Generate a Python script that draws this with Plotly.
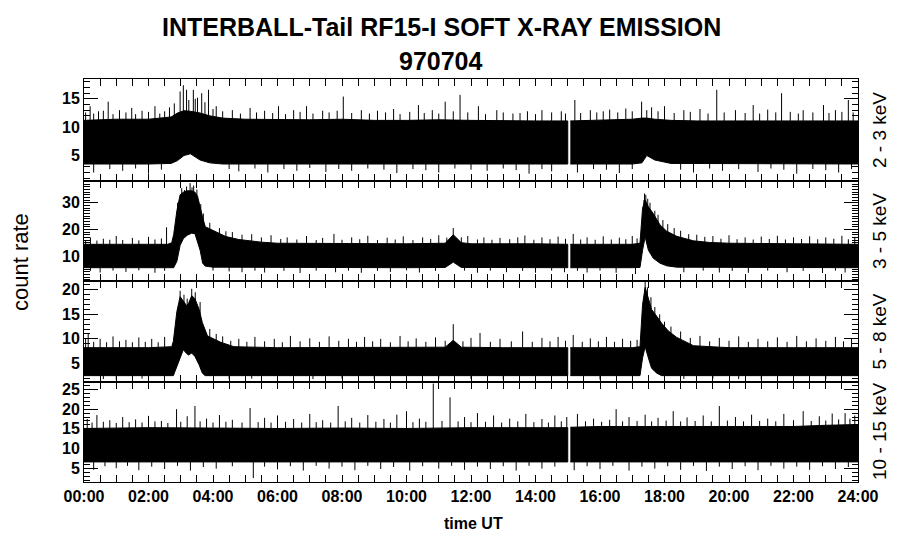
import numpy as np
import plotly.graph_objects as go
from plotly.subplots import make_subplots

# ---------------- data ----------------
title_lines = ["INTERBALL-Tail RF15-I SOFT X-RAY EMISSION", "970704"]
channels = ["2 - 3 keV", "3 - 5 keV", "5 - 8 keV", "10 - 15 keV"]
hour_ticks = [0, 2, 4, 6, 8, 10, 12, 14, 16, 18, 20, 22, 24]
hour_labels = ["00:00", "02:00", "04:00", "06:00", "08:00", "10:00", "12:00",
               "14:00", "16:00", "18:00", "20:00", "22:00", "24:00"]
gap_start, gap_end = 15.0, 15.08

# panel 1 : 2 - 3 keV  (dense band: upper / lower envelope)
t1 = [0, 1, 2, 2.7, 2.9, 3.1, 3.3, 3.6, 3.9, 4.3, 5, 6, 7, 8, 9, 10, 11, 12, 13, 14, 15.0,
      15.08, 16, 17, 17.3, 17.45, 17.7, 18.2, 19, 20, 21, 22, 23, 24]
hi1 = [11.2, 11.4, 11.4, 11.8, 12.5, 12.9, 12.8, 12.5, 12.0, 11.6, 11.4, 11.3, 11.3, 11.4, 11.2,
       11.2, 11.3, 11.2, 11.1, 11.1, 11.1, 11.1, 11.2, 11.4, 11.6, 11.6, 11.4, 11.2, 11.1, 11.1,
       11.2, 11.1, 11.1, 11.1]
lo1 = [3.5, 3.5, 3.5, 3.6, 4.1, 5.0, 5.3, 4.2, 3.7, 3.5, 3.5, 3.5, 3.5, 3.5, 3.5, 3.5, 3.5, 3.5,
       3.5, 3.5, 3.5, 3.5, 3.5, 3.5, 3.7, 5.0, 4.2, 3.6, 3.5, 3.5, 3.5, 3.5, 3.5, 3.5]
up1_t = [0.05, 0.19, 0.3, 0.45, 0.6, 0.75, 0.9, 1.1, 1.3, 1.48, 1.6, 1.8, 2.0, 2.2, 2.35, 2.5,
         2.65, 2.8, 2.98, 3.08, 3.18, 3.25, 3.39, 3.45, 3.52, 3.65, 3.75, 3.86, 4.0, 4.1, 4.3,
         4.6, 4.85, 5.15, 5.35, 5.6, 5.85, 6.03, 6.25, 6.5, 6.7, 6.9, 7.1, 7.4, 7.6, 7.85, 8.04,
         8.3, 8.6, 8.85, 9.1, 9.35, 9.6, 9.8, 10.1, 10.37, 10.55, 10.8, 11.0, 11.2, 11.45, 11.66,
         11.9, 12.23, 12.45, 12.8, 13.0, 13.3, 13.52, 13.75, 14.0, 14.2, 14.5, 14.8, 14.93,
         15.22, 15.4, 15.7, 15.9, 16.1, 16.3, 16.55, 16.8, 17.0, 17.29, 17.45, 17.6, 17.8, 18.0,
         18.3, 18.6, 18.8, 19.1, 19.35, 19.62, 19.85, 20.2, 20.5, 20.75, 20.95, 21.2, 21.45,
         21.63, 21.9, 22.15, 22.3, 22.6, 22.93, 23.1, 23.3, 23.5, 23.7, 23.85]
up1_v = [12.6, 13.7, 12.4, 12.8, 12.9, 14.5, 12.3, 13.0, 12.6, 13.4, 12.3, 12.9, 12.7, 13.7,
         12.4, 12.8, 13.5, 14.2, 16.3, 17.4, 16.6, 14.8, 16.6, 15.0, 15.2, 16.0, 14.4, 16.6, 13.2,
         13.7, 12.8, 13.0, 12.4, 13.4, 12.6, 12.9, 12.5, 13.7, 12.3, 13.0, 12.7, 13.7, 12.4, 12.9,
         12.6, 12.9, 15.4, 12.5, 13.0, 12.4, 12.9, 12.6, 13.2, 12.3, 12.7, 13.9, 12.5, 13.0, 12.4,
         14.5, 12.8, 15.7, 12.6, 13.7, 12.3, 13.0, 12.6, 12.4, 12.5, 12.8, 12.3, 13.0, 12.6, 12.8,
         12.4, 14.8, 12.5, 13.0, 12.6, 12.8, 13.1, 12.6, 13.3, 12.8, 14.5, 13.0, 13.5, 12.8, 13.7,
         12.5, 13.0, 12.7, 13.2, 12.4, 16.6, 12.6, 13.0, 12.5, 13.9, 12.4, 13.1, 12.6, 16.0, 12.7,
         12.4, 13.0, 12.6, 13.9, 12.5, 13.0, 12.7, 14.8, 12.6]
dn1_t = [0.3, 0.8, 1.2, 1.6, 2.0, 2.4, 4.5, 4.8, 5.3, 5.7, 6.2, 6.6, 7.0, 7.5, 7.9, 8.3, 8.8, 9.3,
         9.7, 10.2, 10.6, 11.0, 11.5, 12.0, 12.5, 13.0, 13.4, 13.8, 14.2, 14.5, 15.3, 15.8, 16.2,
         16.6, 17.0, 18.5, 18.9, 19.4, 19.8, 20.3, 20.9, 21.3, 21.7, 22.1, 22.6, 23.0, 23.4, 23.8]
dn1_v = [2.0, 2.6, 2.3, 2.7, 1.8, 2.5, 2.6, 2.2, 2.7, 2.0, 2.6, 2.3, 2.8, 2.1, 2.6, 2.3, 2.7, 2.5,
         1.9, 2.6, 2.4, 2.0, 2.7, 2.5, 2.3, 2.7, 2.4, 1.8, 2.6, 2.2, 2.0, 2.6, 2.5, 1.9, 2.6, 2.5,
         2.0, 2.7, 2.3, 2.6, 2.1, 2.7, 2.5, 1.8, 2.6, 2.4, 2.0, 2.6]

# panel 2 : 3 - 5 keV
t2 = [0, 1, 2, 2.6, 2.72, 2.78, 2.88, 2.98, 3.08, 3.2, 3.34, 3.44, 3.52, 3.6, 3.68, 3.76, 4.0,
      4.4, 4.8, 5.5, 6, 8, 10, 11.2, 11.45, 11.7, 12, 14, 15.0, 15.08, 16, 17, 17.24, 17.32, 17.4,
      17.5, 17.65, 17.86, 18.07, 18.38, 18.9, 19.4, 20, 22, 24]
hi2 = [14.4, 14.4, 14.4, 14.4, 15.0, 18.0, 27.0, 33.0, 34.0, 34.5, 34.5, 34.0, 32.5, 28.0, 24.5,
       21.0, 19.5, 17.3, 16.2, 15.2, 14.8, 14.6, 14.6, 14.8, 18.0, 15.0, 14.6, 14.6, 14.4, 14.4,
       14.4, 14.4, 14.8, 28.0, 31.0, 28.5, 26.0, 21.7, 19.3, 17.4, 15.7, 15.1, 14.8, 14.6, 14.4]
lo2 = [5.6, 5.6, 5.6, 5.6, 5.6, 5.6, 8.0, 14.0, 16.5, 17.8, 18.6, 18.4, 15.5, 12.2, 7.3, 6.2, 5.8,
       5.7, 5.6, 5.6, 5.6, 5.6, 5.6, 5.7, 7.7, 5.7, 5.6, 5.6, 5.6, 5.6, 5.6, 5.6, 5.7, 12.2, 17.2,
       12.2, 9.2, 7.3, 6.3, 5.8, 5.6, 5.6, 5.6, 5.6, 5.6]
up2_t = [0.05, 0.2, 0.4, 0.6, 0.8, 1.0, 1.2, 1.5, 1.7, 2.0, 2.2, 2.4, 2.56, 2.9, 3.03, 3.12, 3.18,
         3.29, 3.35, 3.4, 3.5, 3.62, 3.7, 3.9, 4.2, 4.4, 4.6, 4.9, 5.2, 5.5, 5.8, 6.1, 6.3, 6.6,
         6.9, 7.2, 7.4, 7.75, 8.0, 8.3, 8.55, 8.8, 9.1, 9.4, 9.65, 9.9, 10.2, 10.5, 10.75, 11.0,
         11.25, 11.45, 11.7, 11.9, 12.2, 12.4, 12.65, 12.9, 13.2, 13.45, 13.67, 13.95, 14.2, 14.45,
         14.7, 14.93, 15.17, 15.4, 15.6, 15.85, 16.1, 16.35, 16.6, 16.8, 17.0, 17.15, 17.36, 17.38,
         17.42, 17.48, 17.55, 17.7, 17.8, 17.95, 18.1, 18.3, 18.5, 18.75, 19.0, 19.25, 19.5, 19.75,
         20.0, 20.25, 20.5, 20.75, 21.0, 21.25, 21.5, 21.75, 22.0, 22.25, 22.5, 22.75, 23.0,
         23.25, 23.5, 23.7, 23.9]
up2_v = [16.0, 17.0, 15.8, 16.5, 16.1, 17.5, 16.0, 16.8, 15.9, 17.2, 16.2, 16.6, 20.8, 30.0, 35.5,
         34.8, 36.1, 37.4, 35.8, 36.5, 35.0, 29.5, 26.0, 22.5, 20.5, 19.3, 19.0, 18.0, 18.2, 17.0,
         17.8, 16.4, 17.0, 16.2, 17.5, 16.0, 16.8, 18.3, 16.1, 17.0, 16.3, 17.6, 16.0, 16.9, 16.2,
         17.4, 16.0, 17.0, 16.4, 17.8, 16.9, 20.5, 17.0, 17.5, 16.2, 17.0, 16.1, 16.8, 16.3, 17.0,
         17.7, 16.1, 17.0, 16.3, 17.3, 16.5, 18.3, 16.2, 17.0, 16.1, 17.4, 16.2, 16.9, 16.3, 17.5,
         16.6, 31.0, 33.5, 33.0, 31.5, 30.0, 27.0, 25.5, 23.5, 22.0, 20.5, 19.5, 18.2, 18.0, 17.2,
         17.5, 16.5, 17.8, 16.3, 17.0, 16.2, 17.3, 16.4, 17.6, 16.2, 17.0, 16.4, 17.4, 16.3, 17.0,
         16.5, 17.6, 16.3, 17.2]
dn2_t = [0.2, 0.5, 0.9, 1.3, 1.7, 2.2, 2.5, 4.0, 4.5, 4.9, 5.3, 5.6, 6.2, 6.7, 7.2, 7.8, 8.2, 8.6,
         9.1, 9.5, 10.0, 10.4, 10.9, 11.8, 12.2, 12.6, 13.1, 13.6, 14.0, 14.5, 14.9, 15.3, 15.6,
         16.0, 16.5, 17.1, 18.6, 19.2, 19.7, 20.1, 20.6, 21.2, 21.8, 22.3, 22.9, 23.3, 23.6]
dn2_v = [4.4, 3.8, 4.5, 4.0, 4.6, 3.7, 4.4, 4.5, 4.2, 3.9, 4.5, 3.8, 4.4, 3.6, 4.5, 3.9, 4.5, 3.7,
         4.4, 4.0, 4.6, 3.8, 4.4, 4.5, 3.7, 4.5, 3.9, 4.4, 3.7, 4.5, 3.9, 4.4, 3.8, 4.5, 3.7, 3.2,
         3.9, 4.5, 3.8, 4.4, 3.7, 4.5, 3.9, 4.4, 3.6, 4.5, 3.8]

# panel 3 : 5 - 8 keV
t3 = [0, 2, 2.72, 2.77, 2.88, 2.98, 3.08, 3.18, 3.24, 3.34, 3.44, 3.57, 3.67, 3.76, 3.83, 4.24,
      4.65, 6, 8, 10, 11.2, 11.45, 11.7, 13, 15.0, 15.08, 17, 17.24, 17.32, 17.4, 17.5, 17.6,
      17.76, 17.91, 18.12, 18.38, 18.9, 20, 22, 24]
hi3 = [8.2, 8.2, 8.4, 9.5, 15.6, 18.6, 17.7, 16.8, 17.2, 18.8, 18.2, 16.0, 13.3, 11.6, 10.6, 9.3,
       8.4, 8.2, 8.2, 8.2, 8.3, 9.7, 8.3, 8.2, 8.2, 8.2, 8.2, 8.4, 17.0, 20.5, 18.0, 16.0, 14.6,
       13.2, 11.6, 10.3, 8.6, 8.2, 8.2, 8.2]
lo3 = [2.5, 2.5, 2.5, 2.5, 4.0, 6.1, 7.8, 7.0, 6.7, 7.1, 6.4, 4.7, 3.0, 2.5, 2.5, 2.5, 2.5, 2.5,
       2.5, 2.5, 2.5, 2.5, 2.5, 2.5, 2.5, 2.5, 2.5, 2.5, 6.1, 8.4, 6.1, 4.0, 3.0, 2.5, 2.5, 2.5,
       2.5, 2.5, 2.5, 2.5]
up3_t = [0.05, 0.13, 0.3, 0.5, 0.7, 0.9, 1.1, 1.3, 1.5, 1.7, 1.9, 2.1, 2.3, 2.5, 2.98, 3.1, 3.2,
         3.34, 3.45, 3.6, 3.9, 4.1, 4.3, 4.55, 4.8, 5.05, 5.3, 5.6, 5.9, 6.15, 6.4, 6.7, 7.0, 7.3,
         7.6, 7.9, 8.2, 8.45, 8.7, 8.95, 9.2, 9.5, 9.8, 10.05, 10.3, 10.6, 10.9, 11.2, 11.45,
         11.75, 12.0, 12.28, 12.6, 12.9, 13.25, 13.6, 13.9, 14.2, 14.45, 14.7, 14.93, 15.17, 15.45,
         15.7, 15.95, 16.2, 16.45, 16.7, 16.95, 17.15, 17.4, 17.47, 17.58, 17.7, 17.85, 18.0, 18.2,
         18.5, 18.8, 19.1, 19.4, 19.7, 20.0, 20.3, 20.6, 20.9, 21.2, 21.5, 21.8, 22.1, 22.4, 22.7,
         23.0, 23.3, 23.55, 23.8]
up3_v = [10.0, 11.2, 9.4, 10.0, 9.3, 10.5, 9.5, 9.8, 9.3, 10.3, 9.4, 10.0, 9.3, 10.4, 19.8, 19.0,
         18.2, 20.2, 19.5, 17.5, 12.0, 11.0, 10.5, 9.6, 10.0, 9.4, 10.4, 9.5, 10.0, 9.3, 10.6, 9.5,
         10.1, 9.4, 10.5, 9.6, 10.0, 9.4, 10.4, 9.5, 10.0, 9.3, 10.6, 9.5, 10.1, 9.4, 10.3, 9.6,
         13.0, 9.5, 10.2, 11.2, 9.4, 10.0, 9.5, 11.5, 9.4, 10.2, 9.5, 10.4, 9.6, 10.8, 9.4, 10.1,
         9.5, 10.4, 9.4, 10.0, 9.6, 9.8, 21.8, 20.5, 18.5, 16.5, 15.0, 13.5, 12.5, 11.5, 10.2, 10.6,
         9.5, 10.2, 9.6, 10.5, 9.4, 10.0, 9.5, 10.3, 9.4, 10.6, 9.5, 10.1, 9.6, 10.4, 9.5, 10.0]
dn3_t = [0.6, 1.0, 1.8, 4.5, 5.2, 6.0, 7.1, 8.0, 9.0, 10.0, 11.0, 12.0, 13.0, 14.0, 16.0, 18.6,
         19.5, 20.3, 21.0, 22.0, 23.0]
dn3_v = [1.8, 1.7, 1.9, 1.8, 1.9, 1.7, 1.8, 1.9, 1.8, 1.7, 1.9, 1.8, 1.7, 1.9, 1.7, 1.8, 1.9, 1.8,
         1.7, 1.9, 1.8]

# panel 4 : 10 - 15 keV
t4 = [0, 2, 4, 6, 8, 10, 12, 14, 15.0, 15.08, 16, 18, 20, 22, 23, 24]
hi4 = [15.1, 15.3, 15.2, 15.1, 15.2, 15.1, 15.3, 15.3, 15.3, 15.4, 15.6, 15.6, 15.6, 15.6, 15.9,
       16.1]
lo4 = [6.6, 6.6, 6.6, 6.6, 6.6, 6.6, 6.6, 6.6, 6.6, 6.6, 6.6, 6.6, 6.6, 6.6, 6.6, 6.6]
up4_t = [0.1, 0.25, 0.4, 0.6, 0.8, 1.0, 1.2, 1.4, 1.6, 1.8, 2.0, 2.2, 2.4, 2.6, 2.87, 3.0, 3.2,
         3.44, 3.6, 3.8, 4.0, 4.2, 4.4, 4.6, 4.9, 5.15, 5.4, 5.6, 5.8, 6.0, 6.25, 6.5, 6.75, 7.0,
         7.2, 7.4, 7.65, 7.88, 8.1, 8.3, 8.55, 8.8, 9.05, 9.3, 9.5, 9.7, 10.0, 10.2, 10.4, 10.6,
         10.83, 11.1, 11.35, 11.6, 11.8, 12.0, 12.2, 12.45, 12.7, 12.95, 13.2, 13.45, 13.7, 13.95,
         14.2, 14.4, 14.6, 14.8, 14.97, 15.3, 15.55, 15.8, 16.05, 16.3, 16.5, 16.7, 16.9, 17.15,
         17.4, 17.6, 17.8, 18.05, 18.27, 18.5, 18.7, 18.95, 19.2, 19.45, 19.7, 19.95, 20.2, 20.45,
         20.7, 20.95, 21.2, 21.45, 21.7, 22.0, 22.3, 22.55, 22.8, 23.0, 23.2, 23.4, 23.6, 23.75,
         23.9]
up4_v = [17.5, 16.6, 18.5, 16.8, 17.2, 16.5, 18.0, 16.7, 17.4, 16.6, 18.3, 16.9, 17.0, 16.5, 20.0,
         16.8, 18.2, 20.8, 16.9, 17.6, 16.6, 18.5, 16.8, 17.3, 16.6, 20.3, 16.7, 17.8, 16.6, 18.4,
         16.8, 17.5, 16.6, 18.8, 16.7, 17.2, 16.6, 20.8, 16.9, 17.8, 16.6, 18.5, 16.8, 17.5, 16.6,
         18.6, 19.5, 16.7, 17.6, 16.8, 26.5, 17.0, 23.0, 16.9, 18.0, 16.7, 19.0, 16.8, 18.4, 16.6,
         17.6, 16.9, 18.8, 16.7, 17.5, 16.6, 18.4, 16.9, 18.0, 18.8, 16.9, 17.6, 16.8, 17.3, 20.0,
         16.9, 18.0, 17.0, 18.6, 16.9, 17.8, 17.1, 19.5, 16.9, 17.9, 17.0, 18.4, 16.9, 20.8, 17.1,
         18.0, 16.9, 18.6, 17.0, 17.6, 16.9, 18.8, 17.2, 19.5, 17.0, 18.2, 17.1, 18.9, 17.4, 19.0,
         17.6, 18.4]
dn4_t = [0.3, 0.65, 1.0, 1.35, 1.7, 2.1, 2.5, 2.9, 3.3, 3.7, 4.1, 4.6, 5.25, 5.6, 6.0, 6.4, 6.8,
         7.2, 7.6, 8.0, 8.4, 8.8, 9.2, 9.6, 10.1, 10.5, 11.0, 11.4, 11.8, 12.2, 12.6, 13.0, 13.4,
         13.8, 14.2, 14.6, 15.2, 15.6, 16.0, 16.4, 16.9, 17.3, 17.7, 18.1, 18.5, 18.9, 19.3, 19.7,
         20.1, 20.5, 20.9, 21.3, 21.7, 22.1, 22.5, 22.9, 23.3, 23.7]
dn4_v = [4.6, 5.5, 5.0, 5.6, 4.5, 5.4, 4.8, 5.6, 4.4, 5.3, 4.9, 5.5, 2.5, 5.4, 4.7, 5.5, 4.4, 5.6,
         4.9, 5.4, 4.5, 5.6, 4.8, 5.3, 4.4, 5.5, 4.9, 5.6, 4.6, 5.4, 4.8, 5.5, 4.4, 5.6, 4.9, 5.4,
         4.5, 5.5, 4.8, 5.6, 4.4, 5.4, 4.9, 5.5, 4.6, 5.6, 4.3, 5.4, 4.8, 5.5, 4.5, 5.6, 4.9, 5.4,
         4.6, 5.5, 4.8, 5.3]

y_ranges = [[0.5, 18.5], [0.6, 38.2], [1.2, 21.8], [1.5, 26.9]]
y_ticks = [[5, 10, 15], [10, 20, 30], [5, 10, 15, 20], [5, 10, 15, 20, 25]]

panels = [
    (t1, hi1, lo1, up1_t, up1_v, dn1_t, dn1_v),
    (t2, hi2, lo2, up2_t, up2_v, dn2_t, dn2_v),
    (t3, hi3, lo3, up3_t, up3_v, dn3_t, dn3_v),
    (t4, hi4, lo4, up4_t, up4_v, dn4_t, dn4_v),
]

# ---------------- figure ----------------
fig = make_subplots(rows=4, cols=1, shared_xaxes=True, vertical_spacing=0)

W, H = 900, 548
l_px, r_px = 84, 858
top_px, bot_px = 79, 482
edges_px = [79, 181, 281, 382, 482]
plot_w = r_px - l_px
plot_h = bot_px - top_px


def xf(px):
    return (px - l_px) / plot_w


def yf(px):
    return (bot_px - px) / plot_h


for i, (t, hi, lo, ut, uv, dt, dv) in enumerate(panels):
    row = i + 1
    t = np.asarray(t, float)
    hi = np.asarray(hi, float)
    lo = np.asarray(lo, float)
    mid = (hi + lo) / 2.0
    for mask in (t <= gap_start, t >= gap_end):
        tx = t[mask]
        xs = np.concatenate([tx, tx[::-1]])
        ys = np.concatenate([hi[mask], lo[mask][::-1]])
        fig.add_trace(go.Scatter(x=xs, y=ys, mode="lines", fill="toself",
                                 fillcolor="black", line=dict(color="black", width=1),
                                 hoverinfo="skip", showlegend=False), row=row, col=1)
    sx, sy = [], []
    for tt, vv in list(zip(ut, uv)) + list(zip(dt, dv)):
        sx += [tt, tt, None]
        sy += [float(np.interp(tt, t, mid)), vv, None]
    fig.add_trace(go.Scatter(x=sx, y=sy, mode="lines",
                             line=dict(color="black", width=1),
                             hoverinfo="skip", showlegend=False), row=row, col=1)

tickfont = dict(family="Liberation Sans, Arial, sans-serif", size=16, color="black",
                weight="bold")

for i in range(4):
    row = i + 1
    fig.update_yaxes(
        row=row, col=1,
        domain=[yf(edges_px[i + 1]), yf(edges_px[i])],
        range=y_ranges[i], tickvals=y_ticks[i],
        ticks="inside", ticklen=14, tickwidth=1, tickcolor="black",
        minor=dict(dtick=1, ticks="inside", ticklen=6, tickwidth=1, tickcolor="black"),
        showline=True, linecolor="black", linewidth=1, mirror="ticks",
        showgrid=False, zeroline=False, tickfont=tickfont,
    )
    fig.update_xaxes(
        row=row, col=1,
        range=[0, 24], tickvals=hour_ticks, ticktext=hour_labels,
        ticks="inside", ticklen=7, tickwidth=1, tickcolor="black",
        minor=dict(dtick=0.5, ticks="inside", ticklen=7, tickwidth=1, tickcolor="black"),
        showline=True, linecolor="black", linewidth=1, mirror="ticks",
        showgrid=False, zeroline=False,
        showticklabels=(row == 4), tickfont=tickfont,
    )

annotations = [
    dict(text=title_lines[0], x=xf(441), y=yf(27), xref="paper", yref="paper",
         showarrow=False, xanchor="center", yanchor="middle",
         font=dict(family="Liberation Sans, Arial, sans-serif", size=25, color="black",
                   weight="bold")),
    dict(text=title_lines[1], x=xf(441), y=yf(61), xref="paper", yref="paper",
         showarrow=False, xanchor="center", yanchor="middle",
         font=dict(family="Liberation Sans, Arial, sans-serif", size=25, color="black",
                   weight="bold")),
    dict(text="count rate", x=xf(20), y=yf(262), xref="paper", yref="paper",
         showarrow=False, xanchor="center", yanchor="middle", textangle=-90,
         font=dict(family="Liberation Sans, Arial, sans-serif", size=22, color="black")),
    dict(text="time UT", x=xf(473), y=yf(523), xref="paper", yref="paper",
         showarrow=False, xanchor="center", yanchor="middle",
         font=dict(family="Liberation Sans, Arial, sans-serif", size=16, color="black",
                   weight="bold")),
]
for i, lab in enumerate(channels):
    cy = (edges_px[i] + edges_px[i + 1]) / 2
    annotations.append(dict(text=lab, x=xf(879), y=yf(cy), xref="paper", yref="paper",
                            showarrow=False, xanchor="center", yanchor="middle",
                            textangle=-90,
                            font=dict(family="Liberation Sans, Arial, sans-serif", size=19,
                                      color="black")))

fig.update_layout(
    width=W, height=H,
    margin=dict(l=l_px, r=W - r_px, t=top_px, b=H - bot_px, autoexpand=False),
    paper_bgcolor="white", plot_bgcolor="white",
    showlegend=False,
    annotations=annotations,
)

fig.write_html("out.html",
               config={"displayModeBar": False, "staticPlot": True},
               post_script="document.body.style.margin='0';"
                           "document.body.style.overflow='hidden';")
